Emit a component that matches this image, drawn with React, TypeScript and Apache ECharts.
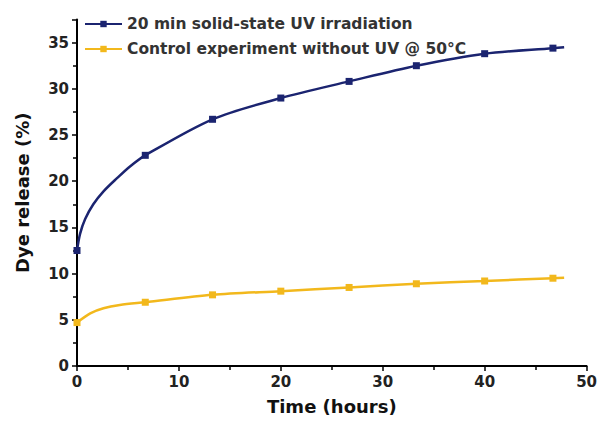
import React, { useEffect, useRef } from "react";
import * as echarts from "echarts";

// Measured points (with markers)
const uvMeasured: [number, number][] = [
  [0, 12.5], [6.7, 22.8], [13.3, 26.7], [20, 29.0], [26.7, 30.8], [33.3, 32.5], [40, 33.8], [46.7, 34.4],
];
// Points (no markers)
const uvCurve: [number, number][] = [
  [0.3, 14.3], [0.8, 15.9], [1.6, 17.5], [2.6, 18.9], [3.9, 20.3], [5.2, 21.6], [47.8, 34.5],
];
const ctrlMeasured: [number, number][] = [
  [0, 4.7], [6.7, 6.9], [13.3, 7.7], [20, 8.1], [26.7, 8.5], [33.3, 8.9], [40, 9.2], [46.7, 9.5],
];
const ctrlCurve: [number, number][] = [
  [1.3, 5.7], [2.6, 6.25], [4.2, 6.6], [47.8, 9.55],
];

const seriesNames = ["20 min solid-state UV irradiation", "Control experiment without UV @ 50°C"];
const colors = ["#1b2470", "#f2b81c"];

function build(measured: [number, number][], curve: [number, number][]) {
  const items = [
    ...measured.map((p) => ({ value: p, marked: true })),
    ...curve.map((p) => ({ value: p, marked: false })),
  ].sort((a, b) => a.value[0] - b.value[0]);
  return items.map((it) => (it.marked ? { value: it.value } : { value: it.value, symbol: "none" }));
}

const FONT = "DejaVu Sans, Verdana, sans-serif";

export default function App() {
  const ref = useRef<HTMLDivElement>(null);
  useEffect(() => {
    if (!ref.current) return;
    const chart = echarts.init(ref.current, undefined, { renderer: "svg" });
    chart.setOption({
      animation: false,
      backgroundColor: "#ffffff",
      grid: { left: 77, right: 10, top: 19.5, bottom: 55, containLabel: false },
      legend: {
        orient: "vertical",
        left: 79,
        top: 11,
        itemWidth: 37,
        itemHeight: 8,
        itemGap: 9,
        data: seriesNames,
        textStyle: { fontFamily: FONT, fontWeight: "bold", fontSize: 15.5, color: "#333333" },
      },
      xAxis: {
        type: "value",
        min: 0,
        max: 50,
        interval: 10,
        name: "Time (hours)",
        nameLocation: "middle",
        nameGap: 31,
        nameTextStyle: { fontFamily: FONT, fontWeight: "bold", fontSize: 18, color: "#111" },
        axisLine: { show: true, onZero: false, lineStyle: { color: "#000", width: 2 } },
        axisTick: { show: true, inside: false, length: 5, lineStyle: { color: "#000", width: 1.5 } },
        minorTick: { show: true, splitNumber: 2, length: 4, lineStyle: { color: "#000", width: 1.5 } },
        axisLabel: { fontFamily: FONT, fontWeight: "bold", fontSize: 15, color: "#222", margin: 8 },
        splitLine: { show: false },
      },
      yAxis: {
        type: "value",
        min: 0,
        max: 37.5,
        interval: 5,
        name: "Dye release (%)",
        nameLocation: "middle",
        nameGap: 46,
        nameTextStyle: { fontFamily: FONT, fontWeight: "bold", fontSize: 18, color: "#111" },
        axisLine: { show: true, onZero: false, lineStyle: { color: "#000", width: 2 } },
        axisTick: { show: true, inside: false, length: 5, lineStyle: { color: "#000", width: 1.5 } },
        minorTick: { show: true, splitNumber: 2, length: 4, lineStyle: { color: "#000", width: 1.5 } },
        axisLabel: {
          fontFamily: FONT,
          fontWeight: "bold",
          fontSize: 15,
          color: "#222",
          margin: 8,
          formatter: (v: number) => (v % 5 === 0 ? String(v) : ""),
        },
        splitLine: { show: false },
      },
      series: [
        {
          name: seriesNames[0],
          type: "line",
          smooth: 0.3,
          symbol: "rect",
          symbolSize: 7,
          data: build(uvMeasured, uvCurve),
          itemStyle: { color: colors[0] },
          lineStyle: { color: colors[0], width: 2.5 },
        },
        {
          name: seriesNames[1],
          type: "line",
          smooth: 0.3,
          symbol: "rect",
          symbolSize: 7,
          data: build(ctrlMeasured, ctrlCurve),
          itemStyle: { color: colors[1] },
          lineStyle: { color: colors[1], width: 2.5 },
        },
      ],
    });
    return () => chart.dispose();
  }, []);
  return <div ref={ref} style={{ width: 600, height: 421, position: "absolute", left: 0, top: 0 }} />;
}
